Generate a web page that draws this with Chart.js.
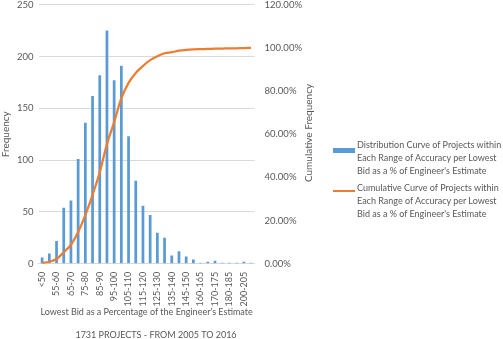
<!DOCTYPE html>
<html>
<head>
<meta charset="utf-8">
<script src="https://cdn.jsdelivr.net/npm/chart.js@4.4.0/dist/chart.umd.min.js"></script>
<style>
  body { margin: 0; background: #fff; width: 503px; height: 339px; overflow: hidden; position: relative; }
  #chart { position: absolute; left: 0; top: -11px; }
  .legend { position: absolute; left: 333px; font-family: Lato, sans-serif; font-size: 9px; color: #595959; line-height: 13px; }
  .legend .key { position: absolute; left: 0; width: 22px; }
  .legend .txt { position: absolute; left: 24px; width: 170px; white-space: nowrap; }
  #y1title { position: absolute; left: 308px; top: 133px; font-family: Lato, sans-serif; font-size: 10px; color: #595959;
    white-space: nowrap; transform: translate(-50%, -50%) rotate(-90deg); }
</style>
</head>
<body>
<canvas id="chart" width="316" height="355"></canvas>
<div id="y1title">Cumulative Frequency</div>
<div class="legend" style="top:138px">
  <div class="key" style="top:10px;height:5px;background:#5B9BD5"></div>
  <div class="txt">Distribution Curve of Projects within<br>Each Range of Accuracy per Lowest<br>Bid as a % of Engineer's Estimate</div>
</div>
<div class="legend" style="top:181px">
  <div class="key" style="top:9px;height:2px;background:#ED7D31"></div>
  <div class="txt">Cumulative Curve of Projects within<br>Each Range of Accuracy per Lowest<br>Bid as a % of Engineer's Estimate</div>
</div>
<script>
const categories = ["<50", "50-55", "55-60", "60-65", "65-70", "70-75", "75-80", "80-85", "85-90", "90-95",
  "95-100", "100-105", "105-110", "110-115", "115-120", "120-125", "125-130", "130-135", "135-140", "140-145",
  "145-150", "150-160", "160-165", "165-170", "170-175", "175-180", "180-185", "185-200", "200-205", ">205"]
const frequency = [6, 10, 22, 54, 61, 101, 136, 162, 182, 225,
  177, 191, 123, 80, 56, 47, 30, 25, 8, 12,
  7, 4, 1, 2, 3, 1, 1, 1, 2, 1]
const cumulative = [0.35, 0.92, 2.2, 5.3, 8.8, 14.7, 22.5, 31.9, 42.4, 55.4,
  65.6, 76.7, 83.8, 88.4, 91.6, 94.3, 96.1, 97.5, 98.0, 98.7,
  99.1, 99.3, 99.4, 99.5, 99.65, 99.7, 99.77, 99.8, 99.94, 100]
const freqTicks = [0, 50, 100, 150, 200, 250]
const pctTicks = [0, 20, 40, 60, 80, 100, 120]

const grey = '#595959'
const font = { family: 'Lato, sans-serif', size: 9.5 }

new Chart(document.getElementById('chart'), {
    data: {
        labels: categories,
        datasets: [{
            type: 'line',
            label: 'Cumulative',
            data: cumulative,
            yAxisID: 'y1',
            borderColor: '#ED7D31',
            borderWidth: 2.25,
            pointRadius: 0,
            tension: 0.3,
            order: 1
        }, {
            type: 'bar',
            label: 'Distribution',
            data: frequency,
            yAxisID: 'y',
            backgroundColor: '#5B9BD5',
            categoryPercentage: 1,
            barPercentage: 0.38,
            order: 2
        }]
    },
    options: {
        responsive: false,
        animation: false,
        layout: { padding: { top: 0, left: 0, right: 4, bottom: 0 } },
        plugins: {
            legend: { display: false },
            tooltip: { enabled: false },
            title: {
                display: true,
                position: 'bottom',
                text: '1731 PROJECTS - FROM 2005 TO 2016',
                color: grey,
                font: { family: 'Lato, sans-serif', size: 9, weight: 'normal' },
                padding: { top: 12, bottom: 4 }
            }
        },
        scales: {
            x: {
                grid: { display: false },
                border: { display: true, color: '#d9d9d9' },
                ticks: {
                    color: grey, font: { family: 'Lato, sans-serif', size: 9 }, autoSkip: false,
                    maxRotation: 90, minRotation: 90, padding: 0,
                    callback: function(v, i) { return i % 2 === 0 ? categories[i] : '' }
                },
                title: {
                    display: true,
                    text: "Lowest Bid as a Percentage of the Engineer's Estimate",
                    color: grey, font: { family: 'Lato, sans-serif', size: 9 }, padding: { top: 0, bottom: 0 }
                }
            },
            y: {
                position: 'left',
                min: 0, max: 250,
                afterBuildTicks: function(axis) { axis.ticks = freqTicks.map(v => ({ value: v })) },
                grid: { color: '#d9d9d9', drawTicks: false },
                border: { display: false },
                ticks: { color: grey, font: font, padding: 5 },
                title: { display: true, text: 'Frequency', color: grey, font: { family: 'Lato, sans-serif', size: 10 }, padding: 0 }
            },
            y1: {
                position: 'right',
                min: 0, max: 120,
                afterBuildTicks: function(axis) { axis.ticks = pctTicks.map(v => ({ value: v })) },
                grid: { drawOnChartArea: false, drawTicks: false },
                border: { display: false },
                ticks: { color: grey, font: font, padding: 10, callback: v => v.toFixed(2) + '%' }
            }
        }
    }
})
</script>
</body>
</html>
